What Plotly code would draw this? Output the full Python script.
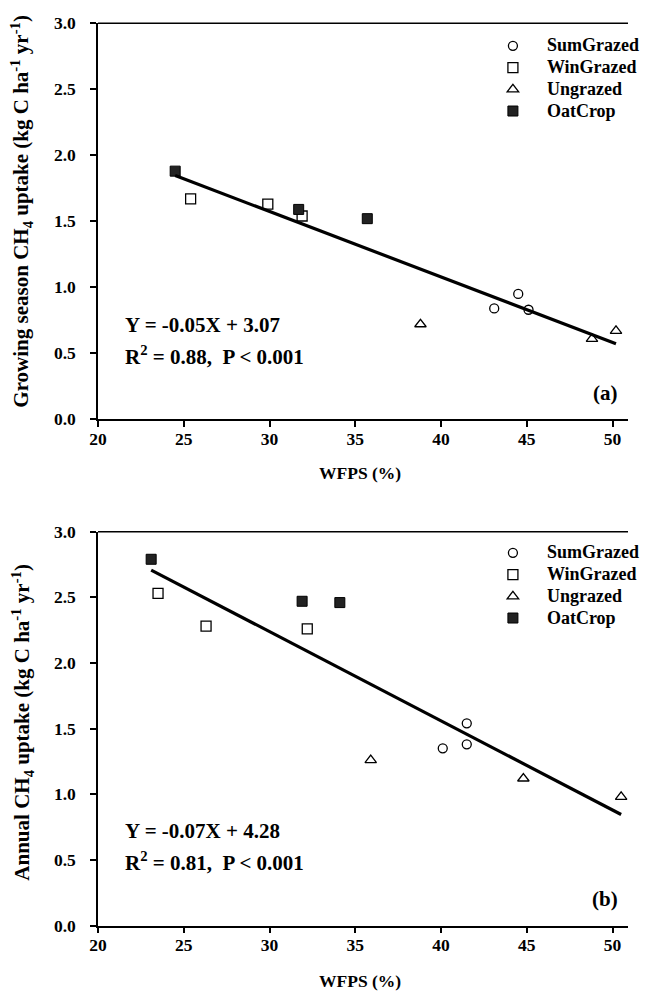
import numpy as np
import plotly.graph_objects as go

# ---------------- data ----------------
groups = ["SumGrazed", "WinGrazed", "Ungrazed", "OatCrop"]

# Panel (a): growing season CH4 uptake vs WFPS
a_sum_x = [43.1, 44.5, 45.1]
a_sum_y = [0.84, 0.95, 0.83]
a_win_x = [25.4, 29.9, 31.9]
a_win_y = [1.67, 1.63, 1.54]
a_ung_x = [38.8, 48.8, 50.2]
a_ung_y = [0.72, 0.61, 0.67]
a_oat_x = [24.5, 31.7, 35.7]
a_oat_y = [1.88, 1.59, 1.52]

# Panel (b): annual CH4 uptake vs WFPS
b_sum_x = [40.1, 41.5, 41.5]
b_sum_y = [1.35, 1.54, 1.38]
b_win_x = [23.5, 26.3, 32.2]
b_win_y = [2.53, 2.28, 2.26]
b_ung_x = [35.9, 44.8, 50.5]
b_ung_y = [1.26, 1.12, 0.98]
b_oat_x = [23.1, 31.9, 34.1]
b_oat_y = [2.79, 2.47, 2.46]

x_ticks = [20, 25, 30, 35, 40, 45, 50]
y_ticks = [0.0, 0.5, 1.0, 1.5, 2.0, 2.5, 3.0]
y_tick_text = ["0.0", "0.5", "1.0", "1.5", "2.0", "2.5", "3.0"]

x_title = "WFPS (%)"
y_title_a = "Growing season CH<sub>4</sub> uptake (kg C ha<sup>-1</sup> yr<sup>-1</sup>)"
y_title_b = "Annual CH<sub>4</sub> uptake (kg C ha<sup>-1</sup> yr<sup>-1</sup>)"
eq_a = ["Y = -0.05X + 3.07", "R<sup>2</sup> = 0.88,  P < 0.001"]
eq_b = ["Y = -0.07X + 4.28", "R<sup>2</sup> = 0.81,  P < 0.001"]

# ---------------- styling ----------------
FONT = "Liberation Serif, Times New Roman, serif"
OFF = 8                      # page body margin of the html page
W, H = 649 - OFF, 1000 - OFF
ML = 98.3 - OFF              # left edge of plot area (page px 98.3)
MR = 649 - 628               # right edge of plot area at page px 628
PW = W - ML - MR

styles = {
    "SumGrazed": dict(symbol="circle-open", size=9, color="black", line=dict(width=1.3, color="black")),
    "WinGrazed": dict(symbol="square-open", size=10, color="black", line=dict(width=1.3, color="black")),
    "Ungrazed": dict(symbol="triangle-up-open", size=10, color="black", line=dict(width=1.3, color="black")),
    "OatCrop": dict(symbol="square", size=10, color="#222222", line=dict(width=1, color="black")),
}

fig = go.Figure()

def add_panel(xs, ys, xa, ya, legend):
    allx, ally = [], []
    for g, x, y in zip(groups, xs, ys):
        fig.add_trace(go.Scatter(x=x, y=y, mode="markers",
                                 name="<span style='font-size:18px'>%s</span>" % g,
                                 marker=styles[g], xaxis=xa, yaxis=ya, legend=legend, showlegend=True))
        allx += x
        ally += y
    allx = np.array(allx)
    ally = np.array(ally)
    k, b = np.polyfit(allx, ally, 1)
    lx = np.array([allx.min(), allx.max()])
    fig.add_trace(go.Scatter(x=lx, y=k * lx + b, mode="lines", line=dict(color="black", width=3.2),
                             xaxis=xa, yaxis=ya, showlegend=False, hoverinfo="skip"))

add_panel([a_sum_x, a_win_x, a_ung_x, a_oat_x], [a_sum_y, a_win_y, a_ung_y, a_oat_y], "x", "y", "legend")
add_panel([b_sum_x, b_win_x, b_ung_x, b_oat_x], [b_sum_y, b_win_y, b_ung_y, b_oat_y], "x2", "y2", "legend2")

def py(p):  # page pixel row -> paper y
    return 1 - (p - OFF) / H

def px(p):  # page pixel column -> paper x (relative to plot area)
    return (p - OFF - ML) / PW

ydom_a = [py(419.3), py(23.3)]
ydom_b = [py(925.5), py(531.7)]

tickfont = dict(family=FONT, size=17.5, color="black", weight="bold")

def xaxis(anchor):
    return dict(domain=[0, 1], anchor=anchor, range=[20, 50.9], tickvals=x_ticks,
                ticks="outside", ticklen=6, tickwidth=1.5, tickcolor="black",
                showline=True, linecolor="black", linewidth=1.5, mirror=False,
                showgrid=False, zeroline=False, tickfont=tickfont, automargin=False,
                ticklabelstandoff=-3)

def yaxis(anchor, dom):
    return dict(domain=dom, anchor=anchor, range=[0, 3], tickvals=y_ticks, ticktext=y_tick_text,
                ticks="outside", ticklen=6, tickwidth=1.5, tickcolor="black",
                showline=True, linecolor="black", linewidth=1.5,
                showgrid=False, zeroline=False, tickfont=tickfont, automargin=False,
                ticklabelstandoff=11)

legfont = dict(family=FONT, size=14.4, color="black", weight="bold")

fig.update_layout(
    width=W, height=H,
    margin=dict(l=ML, r=MR, t=0, b=0, autoexpand=False),
    paper_bgcolor="white", plot_bgcolor="white",
    xaxis=xaxis("y"),
    yaxis=yaxis("x", ydom_a),
    xaxis2=xaxis("y2"),
    yaxis2=yaxis("x2", ydom_b),
    legend=dict(x=px(479), y=py(30), xanchor="left", yanchor="top", font=legfont,
                bgcolor="rgba(0,0,0,0)", borderwidth=0, itemwidth=58, traceorder="normal"),
    legend2=dict(x=px(479), y=py(537), xanchor="left", yanchor="top", font=legfont,
                 bgcolor="rgba(0,0,0,0)", borderwidth=0, itemwidth=58, traceorder="normal"),
    showlegend=True,
)

# top border line of each panel
for dom in (ydom_a, ydom_b):
    fig.add_shape(type="line", xref="paper", yref="paper", x0=0, x1=1, y0=dom[1], y1=dom[1],
                  line=dict(color="black", width=1.5))

ytitlefont = dict(family=FONT, size=21, color="black", weight="bold")
xtitlefont = dict(family=FONT, size=17.5, color="black", weight="bold")
for ytxt, yc, xc_y in ((y_title_a, 211, 473), (y_title_b, 722, 981)):
    fig.add_annotation(text=ytxt, xref="paper", yref="paper", x=px(22), y=py(yc), textangle=-90,
                       xanchor="center", yanchor="middle", showarrow=False, font=ytitlefont)
    fig.add_annotation(text=x_title, xref="paper", yref="paper", x=px(360), y=py(xc_y),
                       xanchor="center", yanchor="middle", showarrow=False, font=xtitlefont)

eqfont = dict(family=FONT, size=21, color="black", weight="bold")
for lines, ys, lab, laby in ((eq_a, (325, 355), "(a)", 393),
                             (eq_b, (831, 861), "(b)", 899)):
    for t, yp in zip(lines, ys):
        fig.add_annotation(text=t, xref="paper", yref="paper", x=px(123), y=py(yp),
                           xanchor="left", yanchor="middle", showarrow=False, font=eqfont)
    fig.add_annotation(text=lab, xref="paper", yref="paper", x=px(620), y=py(laby),
                       xanchor="right", yanchor="middle", showarrow=False, font=eqfont)

fig.write_html("out.html")
